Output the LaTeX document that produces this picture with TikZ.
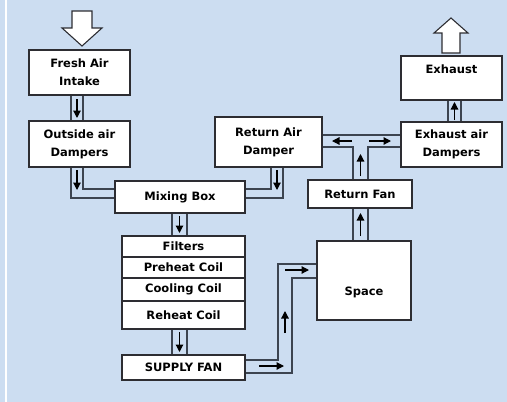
\documentclass[tikz,border=0pt]{standalone}
\usepackage{fontspec}
\setmainfont{DejaVu Sans}
\usetikzlibrary{arrows.meta}
\definecolor{bgblue}{RGB}{204,221,241}
\definecolor{boxline}{RGB}{45,45,50}
\definecolor{ductline}{RGB}{60,68,80}
\tikzset{
  box/.style={draw=boxline, line width=1.3pt, fill=white, rectangle, inner sep=0pt,
     font=\fontsize{11.5}{18}\selectfont\bfseries, align=center},
  lbl/.style={font=\fontsize{11.5}{18}\selectfont\bfseries, align=center, inner sep=0pt},
  duct/.style={draw=ductline, line width=1.2pt},
  flow/.style={draw=black, line width=1.2pt, -{Triangle[length=7.5pt,width=7.5pt]}},
  bigarrow/.style={draw=boxline, line width=1.1pt, fill=white, line join=miter}
}
\begin{document}
\begin{tikzpicture}[x=1pt,y=-1pt]
\fill[bgblue] (0,0) rectangle (507,402);
\useasboundingbox (0,0) rectangle (507,402);
\draw[white, line width=1.5pt] (6,0) -- (6,402);

% boxes
\node[box, minimum width=101pt, minimum height=45pt] (fresh) at (79.5,72.5) {Fresh Air\\Intake};
\node[box, minimum width=101pt, minimum height=46pt] (outside) at (79.5,144) {Outside air\\Dampers};
\node[box, minimum width=130pt, minimum height=32pt] (mixing) at (180,197) {Mixing Box};
\node[box, minimum width=123pt, minimum height=21pt] (filters) at (183.5,246.5) {Filters};
\node[box, minimum width=123pt, minimum height=21pt] (preheat) at (183.5,267.5) {Preheat Coil};
\node[box, minimum width=123pt, minimum height=23pt] (cooling) at (183.5,289.5) {Cooling Coil};
\node[box, minimum width=123pt, minimum height=28pt] (reheat) at (183.5,315) {Reheat Coil};
\node[box, minimum width=123pt, minimum height=25pt] (supply) at (183.5,367.5) {SUPPLY FAN};
\node[box, minimum width=94pt, minimum height=79pt] (space) at (364,280.5) {};
\node[lbl] (spacetxt) at (364,292) {Space};
\node[box, minimum width=104pt, minimum height=28pt] (retfan) at (360,194) {Return Fan};
\node[box, minimum width=107pt, minimum height=50pt] (retdamp) at (268.5,142) {Return Air\\Damper};
\node[box, minimum width=101pt, minimum height=45pt] (exdamp) at (451.5,144.5) {Exhaust air\\Dampers};
\node[box, minimum width=101pt, minimum height=44pt] (exhaust) at (451.5,78) {};
\node[lbl] (exhausttxt) at (451.5,69) {Exhaust};

% big hollow arrows
\draw[bigarrow] (72,11) -- (92,11) -- (92,28) -- (102,28) -- (82,46) -- (62,28) -- (72,28) -- cycle;
\draw[bigarrow] (442,53) -- (460,53) -- (460,33) -- (468,33) -- (451,18) -- (434,33) -- (442,33) -- cycle;

% fresh -> outside
\draw[duct] (fresh.south -| 71,0) -- (outside.north -| 71,0);
\draw[duct] (fresh.south -| 83,0) -- (outside.north -| 83,0);
\draw[flow] (77,99) -- (77,118);

% outside -> mixing
\draw[duct] (outside.south -| 71,0) |- (mixing.west |- 0,198);
\draw[duct] (outside.south -| 83,0) |- (mixing.west |- 0,189);
\draw[flow] (77,170) -- (77,190);

% return damper -> mixing
\draw[duct] (retdamp.south -| 271,0) |- (mixing.east |- 0,189);
\draw[duct] (retdamp.south -| 283,0) |- (mixing.east |- 0,198);
\draw[flow] (277,170) -- (277,190);

% mixing -> filters
\draw[duct] (mixing.south -| 172,0) -- (filters.north -| 172,0);
\draw[duct] (mixing.south -| 187,0) -- (filters.north -| 187,0);
\draw[flow] (179.5,216) -- (179.5,233);

% reheat -> supply
\draw[duct] (reheat.south -| 172,0) -- (supply.north -| 172,0);
\draw[duct] (reheat.south -| 187,0) -- (supply.north -| 187,0);
\draw[flow] (179.5,332) -- (179.5,352);

% supply -> space
\draw[duct] (supply.east |- 0,360) -- (278,360) -- (278,264) -- (space.west |- 0,264);
\draw[duct] (supply.east |- 0,373) -- (292,373) -- (292,278) -- (space.west |- 0,278);
\draw[flow] (259,366) -- (284,366);
\draw[flow] (285,333) -- (285,311);
\draw[flow] (285,270) -- (309,270);

% space -> return fan
\draw[duct] (space.north -| 353,0) -- (retfan.south -| 353,0);
\draw[duct] (space.north -| 368,0) -- (retfan.south -| 368,0);
\draw[flow] (360.5,236) -- (360.5,213);

% return fan -> T
\draw[duct] (retfan.north -| 353,0) |- (retdamp.east |- 0,147);
\draw[duct] (retfan.north -| 368,0) |- (exdamp.west |- 0,147);
\draw[duct] (retdamp.east |- 0,135) -- (exdamp.west |- 0,135);
\draw[flow] (360.5,176) -- (360.5,154);
\draw[flow] (352,141) -- (332,141);
\draw[flow] (369,141) -- (391,141);

% exhaust dampers -> exhaust
\draw[duct] (exdamp.north -| 448,0) -- (exhaust.south -| 448,0);
\draw[duct] (exdamp.north -| 461,0) -- (exhaust.south -| 461,0);
\draw[flow] (454.5,120) -- (454.5,102);
\end{tikzpicture}
\end{document}
